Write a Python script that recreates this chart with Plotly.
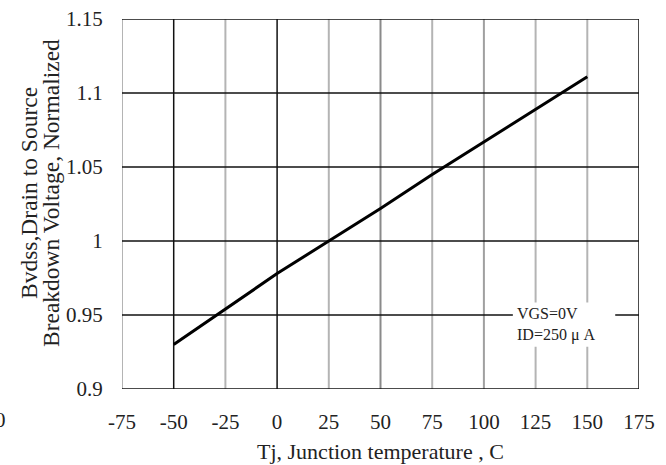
import plotly.graph_objects as go

# Data
temps = [-50, 0, 25, 50, 75, 100, 125, 150]
bvdss_norm = [0.930, 0.978, 1.000, 1.022, 1.045, 1.067, 1.089, 1.111]

x_ticks = [-75, -50, -25, 0, 25, 50, 75, 100, 125, 150, 175]
x_grid_colors = ["#b4b4b4", "#111111", "#b4b4b4", "#111111", "#b4b4b4", "#8a8a8a",
                 "#b4b4b4", "#a0a0a0", "#b4b4b4", "#b4b4b4", "#111111"]
y_ticks = [0.9, 0.95, 1.0, 1.05, 1.1, 1.15]
y_tick_labels = ["0.9", "0.95", "1", "1.05", "1.1", "1.15"]

FONT = "Liberation Serif, Times New Roman, serif"
PLOT_H = 370.0

fig = go.Figure()
fig.add_trace(go.Scatter(x=temps, y=bvdss_norm, mode="lines",
                         line=dict(color="black", width=3), showlegend=False,
                         hoverinfo="skip"))

shapes = []
for xv, col in zip(x_ticks, x_grid_colors):
    shapes.append(dict(type="line", xref="x", yref="paper", x0=xv, x1=xv, y0=0, y1=1,
                       line=dict(color=col, width=2 if col != "#111111" else 1.5),
                       layer="between"))
for yv in y_ticks:
    shapes.append(dict(type="line", xref="paper", yref="y", x0=0, x1=1, y0=yv, y1=yv,
                       line=dict(color="#111111", width=1.5), layer="between"))
# white box behind condition text
shapes.append(dict(type="rect", xref="x", yref="y", x0=114, x1=163.5, y0=0.9285, y1=0.9585,
                   fillcolor="white", line=dict(width=0), layer="above"))

fig.update_layout(
    width=666, height=465,
    margin=dict(l=122, r=27, t=19, b=76, autoexpand=False),
    paper_bgcolor="white", plot_bgcolor="white",
    font=dict(family=FONT, color="#222222", size=22),
    shapes=shapes,
    xaxis=dict(range=[-75, 175], tickvals=x_ticks, ticktext=[str(v) for v in x_ticks],
               showgrid=False, zeroline=False, showline=False, automargin=False,
               ticks="outside", ticklen=14, tickcolor="rgba(0,0,0,0)",
               tickfont=dict(size=21, family=FONT)),
    yaxis=dict(range=[0.9, 1.15], tickvals=y_ticks, ticktext=y_tick_labels,
               showgrid=False, zeroline=False, showline=False, automargin=False,
               ticks="outside", ticklen=14, tickcolor="rgba(0,0,0,0)",
               tickfont=dict(size=21, family=FONT)),
    annotations=[
        dict(text="Tj, Junction temperature , C", xref="paper", yref="paper",
             x=0.5, y=0, yshift=-62, xanchor="center", yanchor="middle",
             showarrow=False, font=dict(size=22, family=FONT)),
        dict(text="Bvdss,Drain to Source",
             xref="paper", yref="paper", x=0, xshift=-122 + 29, y=(389 - 193) / PLOT_H,
             xanchor="center", yanchor="middle", textangle=-90, showarrow=False,
             font=dict(size=23.5, family=FONT)),
        dict(text="Breakdown Voltage, Normalized",
             xref="paper", yref="paper", x=0, xshift=-122 + 51, y=(389 - 193) / PLOT_H,
             xanchor="center", yanchor="middle", textangle=-90, showarrow=False,
             font=dict(size=23.5, family=FONT)),
        dict(text="VGS=0V<br>ID=250 μ A", xref="x", yref="y", x=115, y=0.9435,
             xanchor="left", yanchor="middle", align="left", showarrow=False,
             font=dict(size=16, family=FONT)),
        dict(text="0", xref="paper", yref="paper", x=0, xshift=-122, y=0, yshift=-31,
             xanchor="center", yanchor="middle", showarrow=False,
             font=dict(size=21, family=FONT)),
    ],
)

fig.write_html("out.html", config={"displayModeBar": False},
               post_script="document.body.style.margin='0';")
